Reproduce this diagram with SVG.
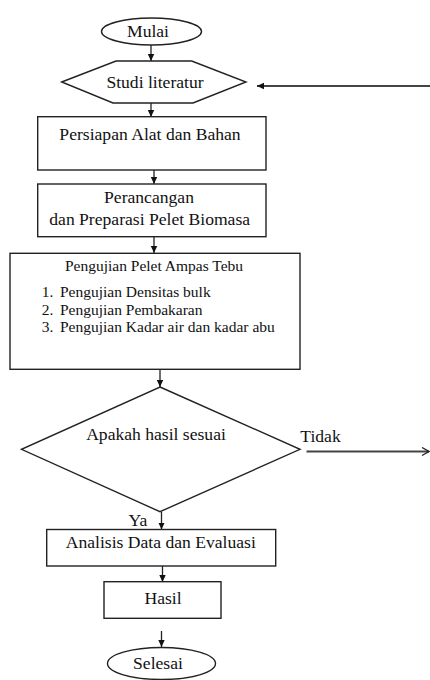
<svg xmlns="http://www.w3.org/2000/svg" width="430" height="680" viewBox="0 0 430 680">
<style>
.shape{fill:#fff;stroke:#222;stroke-width:1.4}
.lbl{font-family:'Liberation Serif','Times New Roman',serif;font-size:17.6px;fill:#111;text-anchor:middle}
.sm{font-family:'Liberation Serif','Times New Roman',serif;font-size:15.5px;fill:#111}
.conn{fill:none;stroke:#222;stroke-width:1.3}
.conn2{fill:none;stroke:#444;stroke-width:1.8}
</style>
<defs>
<marker id="tri" markerWidth="8" markerHeight="8" refX="7" refY="4" orient="auto" markerUnits="userSpaceOnUse">
<path d="M0,0.8 L7,4 L0,7.2 Z" fill="#111"/>
</marker>
<marker id="open" markerWidth="10" markerHeight="10" refX="8" refY="5" orient="auto" markerUnits="userSpaceOnUse">
<path d="M1,1 L8,5 L1,9" fill="none" stroke="#222" stroke-width="1.3"/>
</marker>
</defs>
<g id="connectors">
<line class="conn" x1="151" y1="45" x2="151" y2="61" marker-end="url(#tri)"/>
<line class="conn" x1="151" y1="103" x2="151" y2="117" marker-end="url(#tri)"/>
<line class="conn" x1="154" y1="170" x2="154" y2="184" marker-end="url(#tri)"/>
<line class="conn" x1="154" y1="237" x2="154" y2="253" marker-end="url(#tri)"/>
<line class="conn" x1="160" y1="369" x2="160" y2="387" marker-end="url(#tri)"/>
<line class="conn" x1="161.5" y1="512" x2="161.5" y2="529.5" marker-end="url(#tri)"/>
<line class="conn" x1="162.5" y1="566" x2="162.5" y2="582" marker-end="url(#tri)"/>
<line class="conn" x1="161.5" y1="631" x2="161.5" y2="647" marker-end="url(#tri)"/>
<line class="conn2" x1="430" y1="86" x2="257" y2="86" marker-end="url(#tri)"/>
<line class="conn2" x1="306.5" y1="451.5" x2="429" y2="451.5" marker-end="url(#open)"/>
</g>
<g id="mulai">
<ellipse class="shape" cx="151.5" cy="31.5" rx="50" ry="13.5"/>
<text class="lbl" x="148" y="36.5">Mulai</text>
</g>
<g id="studi">
<polygon class="shape" points="61.7,82 116,61 191.7,61 246,82 193,103 113,103"/>
<text class="lbl" x="155" y="88">Studi literatur</text>
</g>
<g id="persiapan">
<rect class="shape" x="37.7" y="116.7" width="228.3" height="53.3"/>
<text class="lbl" x="150" y="139.5">Persiapan Alat dan Bahan</text>
</g>
<g id="perancangan">
<rect class="shape" x="37.7" y="184" width="228.3" height="52.7"/>
<text class="lbl" x="149" y="203.3">Perancangan</text>
<text class="lbl" x="149.7" y="225">dan Preparasi Pelet Biomasa</text>
</g>
<g id="pengujian">
<rect class="shape" x="10" y="253.3" width="290" height="116"/>
<text class="sm" x="154" y="271" text-anchor="middle">Pengujian Pelet Ampas Tebu</text>
<text class="sm" x="41.7" y="297">1.</text>
<text class="sm" x="60" y="297">Pengujian Densitas bulk</text>
<text class="sm" x="41.7" y="314.5">2.</text>
<text class="sm" x="60" y="314.5">Pengujian Pembakaran</text>
<text class="sm" x="41.7" y="332">3.</text>
<text class="sm" x="60" y="332">Pengujian Kadar air dan kadar abu</text>
</g>
<g id="keputusan">
<polygon class="shape" points="160,387 300,449.3 160,511.7 21.5,449.3"/>
<text class="lbl" x="156" y="439.5">Apakah hasil sesuai</text>
<text class="lbl" x="320.5" y="441.5">Tidak</text>
<text class="lbl" x="138" y="526">Ya</text>
</g>
<g id="analisis">
<rect class="shape" x="46.7" y="529.5" width="229" height="36.5"/>
<text class="lbl" x="160.8" y="548.3">Analisis Data dan Evaluasi</text>
</g>
<g id="hasil">
<rect class="shape" x="104" y="581.7" width="117" height="36.6"/>
<text class="lbl" x="163" y="604">Hasil</text>
</g>
<g id="selesai">
<ellipse class="shape" cx="161.5" cy="663.5" rx="54" ry="16"/>
<text class="lbl" x="158" y="669.3">Selesai</text>
</g>
</svg>
